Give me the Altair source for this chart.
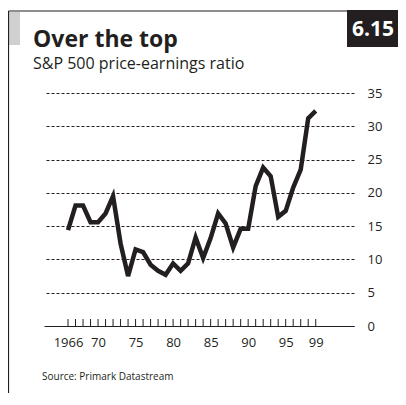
import altair as alt
import pandas as pd

years = list(range(1966, 2000))
pe_ratio = [14.4, 18.1, 18.1, 15.6, 15.6, 16.9, 19.5, 12.4, 7.5, 11.5,
            11.1, 9.2, 8.3, 7.7, 9.4, 8.3, 9.4, 13.3, 10.2, 13.2,
            16.9, 15.4, 11.8, 14.6, 14.6, 21.0, 23.8, 22.5, 16.4, 17.3,
            20.8, 23.5, 31.2, 32.3]
x_tick_values = [1966, 1970, 1975, 1980, 1985, 1990, 1995, 1999]
y_tick_values = [0, 5, 10, 15, 20, 25, 30, 35]

title_text = "Over the top"
subtitle_text = "S&P 500 price-earnings ratio"
source_text = "Source: Primark Datastream"
chart_number = "6.15"

FONT = "Open Sans"
W, H = 310, 233

df = pd.DataFrame({"year": years, "pe": pe_ratio})
ticks_df = pd.DataFrame({"year": years})
one = pd.DataFrame({"a": [0]})

xscale = alt.Scale(domain=[1962.8, 2004.1], nice=False, zero=False)
yscale = alt.Scale(domain=[0, 35], nice=False)

line = alt.Chart(df).mark_line(color="#231f20", strokeWidth=4.5, strokeJoin="miter").encode(
    x=alt.X("year:Q", scale=xscale,
            axis=alt.Axis(values=x_tick_values, title=None, grid=False, ticks=False,
                          domain=True, domainColor="#231f20", domainWidth=1,
                          labelFont=FONT, labelFontSize=13, labelColor="#231f20",
                          labelPadding=10,
                          labelExpr="datum.value == 1966 ? '1966' : substring(toString(datum.value), 2, 4)")),
    y=alt.Y("pe:Q", scale=yscale,
            axis=alt.Axis(orient="right", values=y_tick_values, title=None, grid=True,
                          gridDash=[3, 2], gridColor="#231f20", gridWidth=1,
                          domain=False, ticks=False, labelFont=FONT, labelFontSize=13,
                          labelColor="#231f20", labelPadding=13, labelAlign="left")),
)

ticks = alt.Chart(ticks_df).mark_rule(color="#231f20", strokeWidth=1).encode(
    x=alt.X("year:Q", scale=xscale),
    y=alt.value(H - 7),
    y2=alt.value(H),
)

frame_left = alt.Chart(one).mark_rule(color="#231f20", strokeWidth=1.2).encode(
    x=alt.value(-35.5), y=alt.value(-82), y2=alt.value(H + 80))
frame_top = alt.Chart(one).mark_rule(color="#231f20", strokeWidth=1.2).encode(
    x=alt.value(-35.5), x2=alt.value(303), y=alt.value(-82))
grey_bar = alt.Chart(one).mark_rect(color="#cfd0d2").encode(
    x=alt.value(-35), x2=alt.value(-24), y=alt.value(-81), y2=alt.value(-48))
black_box = alt.Chart(one).mark_rect(color="#231f20").encode(
    x=alt.value(303), x2=alt.value(360), y=alt.value(-83), y2=alt.value(-46))

num = alt.Chart(pd.DataFrame({"t": [chart_number]})).mark_text(
    font=FONT, fontSize=21, fontWeight="bold", color="white", align="center", baseline="alphabetic"
).encode(x=alt.value(329), y=alt.value(-57), text="t:N")

title = alt.Chart(pd.DataFrame({"t": [title_text]})).mark_text(
    font=FONT, fontSize=23, fontWeight="bold", color="#231f20", align="left", baseline="alphabetic"
).encode(x=alt.value(-11), y=alt.value(-46), text="t:N")

subtitle = alt.Chart(pd.DataFrame({"t": [subtitle_text]})).mark_text(
    font=FONT, fontSize=16, color="#231f20", align="left", baseline="alphabetic"
).encode(x=alt.value(-11), y=alt.value(-24), text="t:N")

source = alt.Chart(pd.DataFrame({"t": [source_text]})).mark_text(
    font=FONT, fontSize=10, color="#231f20", align="left", baseline="alphabetic"
).encode(x=alt.value(-2), y=alt.value(287), text="t:N")

chart = alt.layer(
    grey_bar, frame_left, frame_top, black_box, num, title, subtitle, source, ticks, line
).properties(
    width=W, height=H,
    autosize=alt.AutoSizeParams(type="none"),
    padding={"left": 36, "top": 85, "right": 44, "bottom": 67},
).configure(background="white").configure_view(stroke=None, strokeWidth=0)

chart.save("out.html", embed_options={"renderer": "svg", "actions": False})
